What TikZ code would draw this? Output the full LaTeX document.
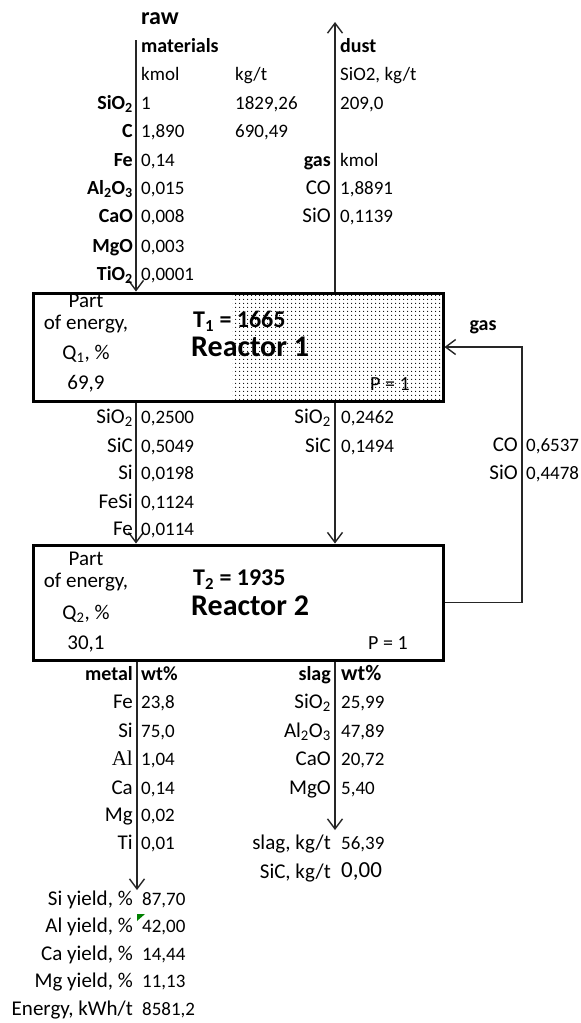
\documentclass[tikz,border=0pt]{standalone}
\usepackage{fontspec}
\setmainfont{Carlito}
\newfontfamily\timesfont{Liberation Serif}
\usetikzlibrary{arrows.meta,patterns.meta}

\begin{document}
\begin{tikzpicture}[
    x=1pt,y=-1pt,
    >={Straight Barb[length=10pt,width=15pt]},
    txt/.style={
        inner sep=0pt,
        anchor=mid,
        font=\fontsize{21}{25}\selectfont
    },
    lbl/.style={txt, anchor=mid east},
    val/.style={txt, anchor=mid west, font=\fontsize{19}{23}\selectfont},
    blbl/.style={lbl, font=\fontsize{20}{24}\selectfont\bfseries},
    bval/.style={val, font=\fontsize{20}{24}\selectfont\bfseries},
    title/.style={val, font=\fontsize{24}{28}\selectfont\bfseries},
    reactor/.style={
        draw=black,
        line width=3pt,
        minimum width=410pt,
        inner sep=0pt
    },
    arr/.style={->, line width=1.4pt, draw=black!85}
]
    \useasboundingbox (0,0) rectangle (581,1023);

    % reactors
    \fill[pattern={Dots[distance=4pt,radius=0.7pt]}] (232,293) rectangle (443,401);
    \node[reactor, minimum height=108pt] (R1) at (238,347) {};
    \node[reactor, minimum height=115pt] (R2) at (238,602.5) {};

    \coordinate (rawtop) at (136,40);
    \coordinate (dusttop) at (335,22);
    \coordinate (gasx) at (522,470);
    \coordinate (metalend) at (137,890);
    \coordinate (slagend) at (335,830);

    \draw[arr] (rawtop) -- (rawtop |- R1.north);
    \draw[arr] (dusttop |- R1.north) -- (dusttop);
    \draw[arr] (R1.south -| rawtop) -- (R2.north -| rawtop);
    \draw[arr] (R1.south -| dusttop) -- (R2.north -| dusttop);
    \draw[arr] (R2.east) -| (gasx) |- (R1.east);
    \draw[arr] (R2.south -| metalend) -- (metalend);
    \draw[arr] (R2.south -| slagend) -- (slagend);

    % raw materials
    \node[title] (raw) at (141,22) {raw};
    \node[bval] (mat) at (141,50) {materials};
    \node[val] (kmolA) at (141,78) {kmol};
    \node[val] (kgtA) at (235,78) {kg/t};
    \node[blbl] (sio2A) at (133,107) {SiO\textsubscript{2}};
    \node[val] (sio2Av) at (141,107) {1};
    \node[val] (sio2Akg) at (235,107) {1829,26};
    \node[blbl] (cA) at (133,135) {C};
    \node[val] (cAv) at (141,135) {1,890};
    \node[val] (cAkg) at (235,135) {690,49};
    \node[blbl] (feA) at (133,164) {Fe};
    \node[val] (feAv) at (141,164) {0,14};
    \node[blbl] (al2o3A) at (133,192) {Al\textsubscript{2}O\textsubscript{3}};
    \node[val] (al2o3Av) at (141,192) {0,015};
    \node[blbl] (caoA) at (133,220) {CaO};
    \node[val] (caoAv) at (141,220) {0,008};
    \node[blbl] (mgoA) at (133,250) {MgO};
    \node[val] (mgoAv) at (141,250) {0,003};
    \node[blbl] (tio2A) at (133,278) {TiO\textsubscript{2}};
    \node[val] (tio2Av) at (141,278) {0,0001};

    % dust and gas out
    \node[bval] (dust) at (340,50) {dust};
    \node[val] (dustunit) at (340,78) {SiO2, kg/t};
    \node[val] (dustv) at (340,107) {209,0};
    \node[blbl] (gasA) at (331,164) {gas};
    \node[val] (kmolB) at (340,164) {kmol};
    \node[lbl] (coA) at (331,192) {CO};
    \node[val] (coAv) at (340,192) {1,8891};
    \node[lbl] (sioA) at (331,220) {SiO};
    \node[val] (sioAv) at (340,220) {0,1139};

    % reactor 1
    \node[txt] (partA) at (86,305) {Part};
    \node[txt] (energyA) at (86,327) {of energy,};
    \node[txt] (qA) at (86,357) {Q\textsubscript{1}, \%};
    \node[txt] (qAv) at (86,387) {69,9};
    \node[title] (T1) at (193,325) {T\textsubscript{1} = 1665};
    \node[val, font=\fontsize{30}{34}\selectfont\bfseries] (R1name) at (191,354) {Reactor 1};
    \node[val, font=\fontsize{20}{24}\selectfont] (P1) at (370,388) {P = 1};

    % reactor 1 to reactor 2
    \node[lbl] (sio2B) at (133,421) {SiO\textsubscript{2}};
    \node[val] (sio2Bv) at (141,421) {0,2500};
    \node[lbl] (sicB) at (133,450) {SiC};
    \node[val] (sicBv) at (141,450) {0,5049};
    \node[lbl] (siB) at (133,477) {Si};
    \node[val] (siBv) at (141,477) {0,0198};
    \node[lbl] (fesiB) at (133,506) {FeSi};
    \node[val] (fesiBv) at (141,506) {0,1124};
    \node[lbl] (feB) at (133,533) {Fe};
    \node[val] (feBv) at (141,533) {0,0114};
    \node[lbl] (sio2C) at (331,421) {SiO\textsubscript{2}};
    \node[val] (sio2Cv) at (341,421) {0,2462};
    \node[lbl] (sicC) at (331,450) {SiC};
    \node[val] (sicCv) at (341,450) {0,1494};

    % gas back to reactor 1
    \node[txt, font=\fontsize{20}{24}\selectfont\bfseries] (gasB) at (483,328) {gas};
    \node[lbl] (coB) at (518,449) {CO};
    \node[val] (coBv) at (526,449) {0,6537};
    \node[lbl] (sioB) at (518,477) {SiO};
    \node[val] (sioBv) at (526,477) {0,4478};

    % reactor 2
    \node[txt] (partB) at (86,563) {Part};
    \node[txt] (energyB) at (86,585) {of energy,};
    \node[txt] (qB) at (86,617) {Q\textsubscript{2}, \%};
    \node[txt] (qBv) at (86,647) {30,1};
    \node[title] (T2) at (193,583) {T\textsubscript{2} = 1935};
    \node[val, font=\fontsize{30}{34}\selectfont\bfseries] (R2name) at (191,613) {Reactor 2};
    \node[val, font=\fontsize{20}{24}\selectfont] (P2) at (368,647) {P = 1};

    % metal
    \node[blbl] (metal) at (133,678) {metal};
    \node[bval] (metalwt) at (141,678) {wt\%};
    \node[lbl] (feM) at (133,706) {Fe};
    \node[val] (feMv) at (141,706) {23,8};
    \node[lbl] (siM) at (133,735) {Si};
    \node[val] (siMv) at (141,735) {75,0};
    \node[lbl] (alM) at (133,763) {\timesfont Al};
    \node[val] (alMv) at (141,763) {1,04};
    \node[lbl] (caM) at (133,792) {Ca};
    \node[val] (caMv) at (141,792) {0,14};
    \node[lbl] (mgM) at (133,819) {Mg};
    \node[val] (mgMv) at (141,819) {0,02};
    \node[lbl] (tiM) at (133,847) {Ti};
    \node[val] (tiMv) at (141,847) {0,01};

    % slag
    \node[blbl] (slag) at (331,678) {slag};
    \node[val, font=\fontsize{22}{26}\selectfont\bfseries] (slagwt) at (341,678) {wt\%};
    \node[lbl] (sio2S) at (331,706) {SiO\textsubscript{2}};
    \node[val] (sio2Sv) at (341,706) {25,99};
    \node[lbl] (al2o3S) at (331,735) {Al\textsubscript{2}O\textsubscript{3}};
    \node[val] (al2o3Sv) at (341,735) {47,89};
    \node[lbl] (caoS) at (331,763) {CaO};
    \node[val] (caoSv) at (341,763) {20,72};
    \node[lbl] (mgoS) at (331,792) {MgO};
    \node[val] (mgoSv) at (341,792) {5,40};
    \node[lbl] (slagkg) at (331,847) {slag, kg/t};
    \node[val] (slagkgv) at (341,847) {56,39};
    \node[lbl] (sickg) at (331,876) {SiC, kg/t};
    \node[val, font=\fontsize{23}{27}\selectfont] (sickgv) at (341,875) {0,00};

    % yields
    \node[lbl] (siY) at (133,903) {Si yield, \%};
    \node[val] (siYv) at (142,903) {87,70};
    \node[lbl] (alY) at (133,930) {Al yield, \%};
    \node[val] (alYv) at (142,930) {42,00};
    \node[lbl] (caY) at (133,958) {Ca yield, \%};
    \node[val] (caYv) at (142,958) {14,44};
    \node[lbl] (mgY) at (133,985) {Mg yield, \%};
    \node[val] (mgYv) at (142,985) {11,13};
    \node[lbl] (energyY) at (133,1013) {Energy, kWh/t};
    \node[val] (energyYv) at (142,1013) {8581,2};
    \fill[green!50!black] (137,914) -- (145,914) -- (137,921) -- cycle;

\end{tikzpicture}
\end{document}
